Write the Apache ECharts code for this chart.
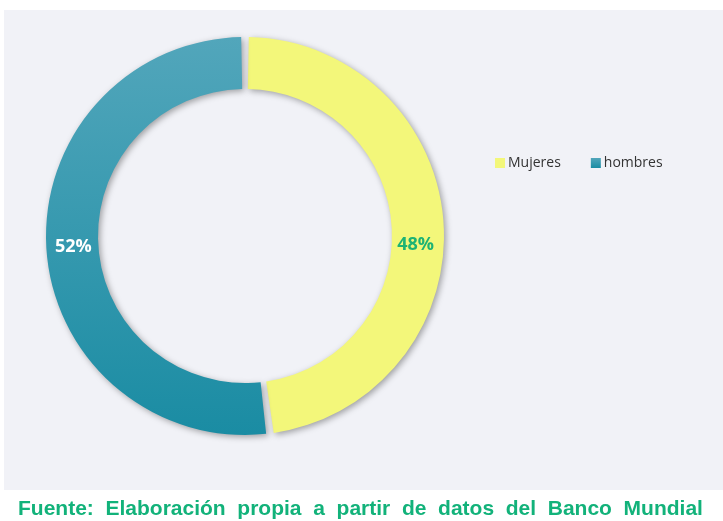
<!DOCTYPE html>
<html>
<head>
<meta charset="utf-8">
<script src="https://cdn.jsdelivr.net/npm/echarts@6/dist/echarts.min.js"></script>
<style>
  html, body { margin: 0; padding: 0; background: #fff; }
  #pieChart { width: 723px; height: 521px; }
</style>
</head>
<body>
<div id="pieChart"></div>
<script>
// categories and shares (%)
const categories = ['Mujeres', 'hombres']
const shares = [48, 52]
const sourceText = 'Fuente:  Elaboración  propia  a  partir  de  datos  del  Banco  Mundial'

const colors = [
  '#f3f77a',
  new echarts.graphic.LinearGradient(0, 0, 0, 1, [
    { offset: 0, color: '#52a6bb' },
    { offset: 1, color: '#1a8ca3' }
  ])
]
const labelColors = ['#1db374', '#ffffff']
// yellow label sits a little lower in the original
const labelOffsets = [[-5, 20], [4, 0]]

const myChart = echarts.init(document.getElementById('pieChart'))

const options = {
  backgroundColor: '#ffffff',
  animation: false,
  legend: {
    data: categories,
    left: 490,
    top: 151,
    itemWidth: 10,
    itemHeight: 10,
    itemGap: 30,
    icon: 'rect',
    textStyle: {
      fontFamily: 'Open Sans',
      fontSize: 14,
      color: '#333333',
      padding: [0, 0, 0, -2]
    }
  },
  graphic: [
    {
      type: 'rect',
      z: -10,
      shape: { x: 4, y: 10, width: 719, height: 480 },
      style: { fill: '#f1f2f7' }
    },
    {
      type: 'text',
      left: 18,
      top: 499,
      style: {
        text: sourceText,
        fill: '#12b27a',
        font: 'bold 21px "Liberation Sans"'
      }
    }
  ],
  series: [
    {
      name: 'share',
      type: 'pie',
      center: [245, 236],
      radius: [147, 199],
      startAngle: 90,
      clockwise: true,
      padAngle: 2.2,
      label: {
        show: true,
        position: 'inside',
        fontFamily: 'Open Sans',
        fontWeight: 'bold',
        fontSize: 18,
        formatter: '{c}%'
      },
      labelLine: { show: false },
      itemStyle: {
        shadowBlur: 6,
        shadowColor: 'rgba(0,0,0,0.35)',
        shadowOffsetX: 2,
        shadowOffsetY: 2
      },
      emphasis: { disabled: true },
      data: categories.map((name, i) => ({
        name: name,
        value: shares[i],
        itemStyle: { color: colors[i] },
        label: { color: labelColors[i], offset: labelOffsets[i] }
      }))
    }
  ]
}

myChart.setOption(options)
</script>
</body>
</html>
